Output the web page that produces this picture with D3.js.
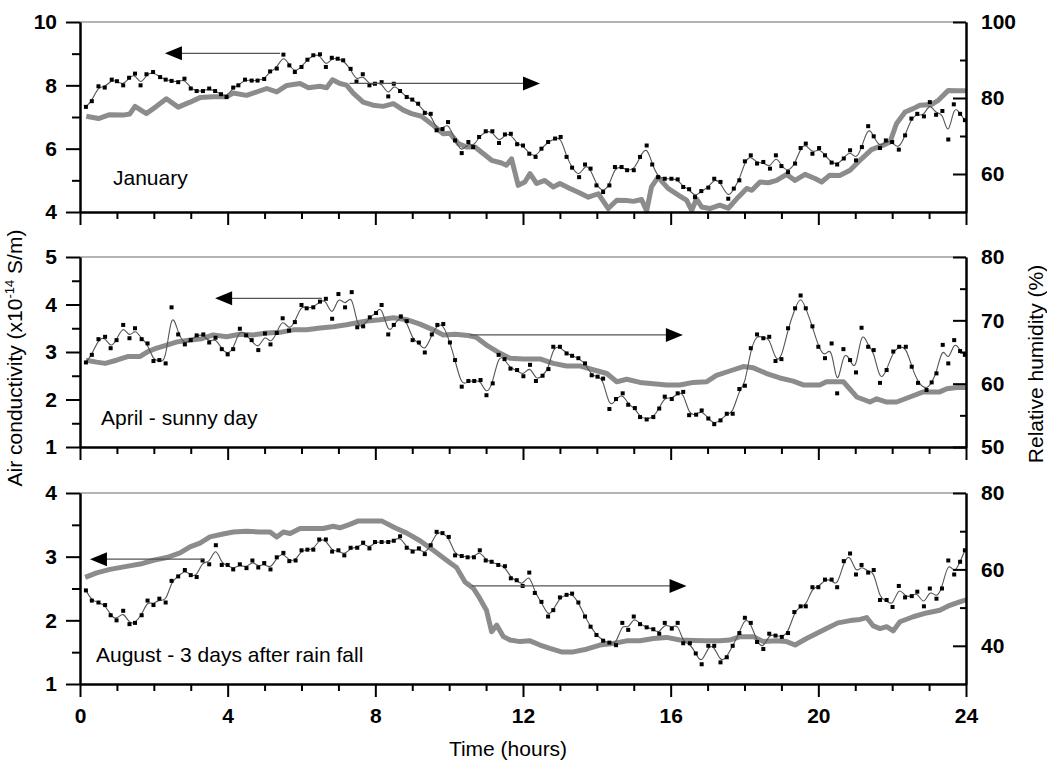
<!DOCTYPE html>
<html>
<head>
<meta charset="utf-8">
<script src="https://cdn.jsdelivr.net/npm/d3@7"></script>
<style>
  body { margin: 0; background: #fff; }
  svg text { font-family: "Liberation Sans", Arial, sans-serif; fill: #000; }
  .tick text { font-weight: bold; font-size: 21px; }
  .axis path, .axis line { stroke: #000; stroke-width: 2; }
  .title { font-size: 21px; }
</style>
</head>
<body>
<div id="chart"></div>
<script>
// ---- data ----
const hourTicks = [0, 4, 8, 12, 16, 20, 24];
const hourMinor = [1, 2, 3, 5, 6, 7, 9, 10, 11, 13, 14, 15, 17, 18, 19, 21, 22, 23];

// January
const janCondT = [0.16,0.32,0.5,0.67,0.86,1,1.17,1.33,1.49,1.64,1.8,1.98,2.17,2.32,2.48,2.66,2.83,3,3.16,3.33,3.5,3.66,3.82,3.97,4.15,4.29,4.47,4.65,4.81,4.99,5.15,5.33,5.51,5.67,5.82,6,6.16,6.32,6.5,6.66,6.82,6.98,7.13,7.33,7.49,7.66,7.84,7.99,8.17,8.35,8.5,8.67,8.85,9,9.16,9.34,9.5,9.66,9.82,9.97,10.16,10.34,10.52,10.65,10.81,10.99,11.17,11.35,11.51,11.67,11.84,12,12.17,12.34,12.5,12.68,12.87,13.02,13.18,13.33,13.52,13.68,13.83,13.99,14.17,14.34,14.49,14.67,14.82,15,15.17,15.35,15.5,15.66,15.84,16.02,16.19,16.34,16.5,16.66,16.83,17.02,17.18,17.35,17.56,17.71,17.86,18.01,18.17,18.34,18.51,18.69,18.85,19,19.18,19.37,19.52,19.66,19.84,20.02,20.18,20.36,20.51,20.69,20.86,21.02,21.18,21.35,21.5,21.67,21.83,22,22.18,22.35,22.52,22.68,22.86,23.02,23.19,23.36,23.52,23.67,23.84,23.97];
const janCond = [7.32,7.5,7.97,7.93,8.18,8.13,8,8.24,8.37,8,8.35,8.42,8.26,8.18,8.14,8.1,8.21,7.9,7.82,7.82,7.9,7.82,7.72,7.63,7.93,8,8.18,8.15,8.15,8.2,8.44,8.53,8.97,8.63,8.42,8.58,8.81,8.95,8.98,8.58,8.87,8.84,8.79,8.52,8.12,8.35,8,8.05,8.1,7.65,8.05,7.82,7.63,7.55,7.42,7.13,7.1,6.58,6.62,6.84,6.26,5.86,6.21,6.05,6.37,6.55,6.55,6.18,6.45,6.47,6.14,6.1,5.84,5.74,6,6.21,6.32,6.37,5.74,5.4,5.1,5.5,5.37,4.84,4.63,4.84,5.42,5.42,5.32,5.32,5.74,6.1,5.5,5.1,5.05,5.05,5.03,4.79,4.72,4.47,4.66,4.77,5.05,4.95,4.42,4.74,5,5.6,5.79,5.53,5.58,5.37,5.79,5.45,5.26,5.53,6.02,6.16,5.84,6.02,5.79,5.56,5.5,5.69,5.95,5.63,6.05,6.71,6.39,6.02,6.26,6.21,5.97,6.42,6.95,7.1,7.02,7.47,7.07,7.19,6.29,7.4,7.1,6.9];
const janRhT = [0.17,0.5,0.8,1.17,1.35,1.49,1.8,2.07,2.34,2.66,2.98,3.25,3.61,3.97,4.15,4.51,5.06,5.33,5.6,5.96,6.19,6.5,6.68,6.84,7.04,7.22,7.4,7.67,7.94,8.21,8.49,8.76,8.98,9.25,9.57,9.84,10.02,10.25,10.47,10.7,10.92,11.15,11.42,11.55,11.69,11.87,12.05,12.19,12.37,12.59,12.82,13,13.27,13.54,13.77,14.04,14.31,14.54,14.81,14.99,15.21,15.35,15.48,15.66,15.93,16.25,16.43,16.57,16.7,16.84,17.06,17.33,17.56,17.83,18.06,18.2,18.42,18.65,18.87,19.14,19.37,19.64,19.91,20.09,20.31,20.58,20.86,21.17,21.44,21.76,21.94,22.12,22.35,22.57,22.75,23.07,23.25,23.52,23.75,24];
const janRh = [75.2,74.6,75.6,75.5,75.8,77.8,75.9,77.8,79.8,77.6,78.9,80.1,80.3,80.3,81.3,80.7,82.5,81.6,83.3,83.8,82.7,83.1,82.7,84.8,83.8,83.4,81.3,78.9,78.1,77.8,78.5,76.8,75.9,75.2,72.8,70.6,70.7,68,67.1,67.1,65.4,63.6,62.9,62.3,64,57,57.9,60.1,57.5,58.3,56.6,57.5,56.2,55,53.9,54.8,50.9,53.1,53,52.8,53.3,50.3,56.6,59.2,56.2,54.2,53.1,50.4,53.5,51.3,50.9,51.8,51,53.9,56.2,55.7,57.9,57.7,58.3,59.9,58.3,59.9,58.8,57.9,59.7,59.6,61,64,66.4,67.6,68.4,73.3,76.3,77.2,78.1,78.3,79.4,82,81.9,81.9];

// April - sunny day
const aprCondT = [0.16,0.32,0.5,0.68,0.83,0.99,1.17,1.34,1.49,1.67,1.83,1.99,2.15,2.32,2.48,2.66,2.84,3,3.16,3.34,3.5,3.67,3.84,4,4.15,4.33,4.5,4.65,4.83,5.01,5.16,5.33,5.49,5.66,5.82,6,6.14,6.32,6.5,6.66,6.83,7,7.18,7.36,7.51,7.67,7.85,8.02,8.17,8.35,8.5,8.69,8.85,9.01,9.18,9.34,9.53,9.68,9.84,10.02,10.16,10.34,10.52,10.68,10.85,11.01,11.18,11.34,11.5,11.66,11.84,12.01,12.19,12.35,12.53,12.69,12.82,13,13.18,13.33,13.5,13.68,13.86,14.02,14.17,14.34,14.52,14.7,14.85,15.03,15.17,15.35,15.53,15.69,15.84,16.03,16.19,16.34,16.5,16.69,16.84,17.02,17.18,17.35,17.52,17.68,17.86,18.01,18.17,18.34,18.51,18.67,18.84,19,19.18,19.37,19.52,19.66,19.84,20,20.18,20.36,20.51,20.68,20.86,21.02,21.17,21.35,21.5,21.67,21.85,22.03,22.19,22.37,22.53,22.7,22.93,23.07,23.2,23.37,23.52,23.68,23.84,23.97];
const aprCond = [2.78,2.94,3.27,3.32,3.08,3.25,3.57,3.29,3.5,3.27,3.18,2.81,2.83,2.76,3.94,3.37,3.16,3.25,3.35,3.37,3.2,3.3,3.06,2.95,3.06,3.49,3.35,3.25,3.04,3.39,3.16,3.4,3.71,3.45,3.63,3.99,3.92,3.94,4.06,4.12,3.7,4.22,3.94,4.26,3.52,3.54,3.73,3.82,3.99,3.37,3.57,3.75,3.65,3.25,3.2,2.99,3.37,3.57,3.59,3.2,2.83,2.27,2.39,2.39,2.41,2.09,2.34,2.94,2.85,2.65,2.62,2.49,2.73,2.39,2.5,2.64,3.11,3.11,2.97,2.92,2.87,2.76,2.51,2.48,2.44,1.8,2.01,2.13,1.89,1.82,1.63,1.58,1.63,1.81,2.06,2.01,2.13,2.16,1.67,1.68,1.77,1.6,1.48,1.56,1.7,1.7,2.22,2.29,3.08,3.37,3.29,3.32,2.81,2.85,3.5,3.92,4.19,3.92,3.54,3.11,2.87,3.18,2.13,3.06,2.83,2.57,3.51,3.11,3.04,2.35,2.62,3.01,3.11,3.11,2.69,2.35,2.2,2.36,2.55,3.15,2.76,3.25,3.02,2.94];
const aprRhT = [0.16,0.45,0.68,0.99,1.31,1.63,1.85,2.08,2.35,2.63,2.99,3.3,3.61,3.97,4.33,4.69,5.06,5.42,5.78,6.14,6.5,6.86,7.22,7.58,7.77,8.13,8.49,8.85,9.21,9.57,9.84,10.16,10.52,10.74,11.01,11.38,11.65,12.01,12.46,12.82,13.18,13.54,13.9,14.27,14.54,14.81,15.17,15.53,15.89,16.25,16.61,16.97,17.24,17.6,17.97,18.24,18.6,18.96,19.32,19.59,20.04,20.22,20.68,21.04,21.4,21.58,21.85,22.12,22.48,22.84,23.29,23.48,23.75,24];
const aprRh = [63.7,63.4,63.2,63.7,64.3,64.3,65.1,65.6,66.1,66.6,66.9,67.1,67.7,67.4,67.8,67.7,68,68.1,68.5,68.5,68.8,69,69.3,69.7,69.9,70.1,70.4,70.1,69.4,68.5,67.7,67.8,67.6,67.3,66.1,64.8,64,63.9,63.9,63.2,62.8,62.8,62.2,61.6,60.3,60.7,60.2,60,59.8,59.8,60.2,60.3,61.3,62,62.7,62.5,61.6,60.9,60.4,59.8,59.8,60.3,60.3,57.9,57.1,57.6,57.1,57.1,57.9,58.7,58.7,59.2,59.4,59.4];

// August - 3 days after rain fall
const augCondT = [0.16,0.32,0.5,0.68,0.83,0.99,1.17,1.34,1.49,1.67,1.83,1.99,2.15,2.32,2.48,2.66,2.84,3,3.16,3.32,3.5,3.68,3.84,4,4.15,4.33,4.51,4.67,4.83,4.99,5.16,5.33,5.51,5.67,5.84,6,6.16,6.32,6.48,6.66,6.83,7,7.16,7.33,7.51,7.67,7.84,7.99,8.17,8.35,8.5,8.67,8.85,9.01,9.18,9.34,9.5,9.66,9.82,9.99,10.16,10.34,10.5,10.67,10.83,10.99,11.15,11.33,11.51,11.67,11.83,11.99,12.17,12.32,12.5,12.68,12.82,13,13.18,13.33,13.5,13.68,13.83,13.99,14.17,14.34,14.52,14.69,14.85,15,15.17,15.35,15.53,15.69,15.84,16.03,16.19,16.34,16.52,16.68,16.84,17.02,17.18,17.35,17.52,17.68,17.86,18.01,18.17,18.34,18.51,18.67,18.84,19.01,19.18,19.35,19.52,19.66,19.84,20,20.18,20.36,20.51,20.69,20.86,21.02,21.17,21.35,21.5,21.67,21.85,22.01,22.18,22.35,22.53,22.68,22.86,23.02,23.2,23.35,23.52,23.68,23.84,23.97];
const augCond = [2.47,2.31,2.28,2.24,2.08,2,2.15,1.94,1.96,2.08,2.31,2.24,2.34,2.28,2.62,2.69,2.79,2.71,2.68,2.94,2.88,3.18,2.87,2.87,2.8,2.88,2.82,2.94,2.83,2.9,2.8,2.99,3.06,2.93,2.94,3.1,3.11,3.11,3.27,3.27,3.08,3.1,3.02,3.14,3.14,3.22,3.13,3.23,3.23,3.23,3.25,3.32,3.14,3.08,3.13,3.04,3.18,3.39,3.37,3.31,3.02,3.01,2.99,2.99,3.1,2.94,2.92,2.87,2.85,2.66,2.63,2.54,2.75,2.43,2.29,2.06,2.16,2.36,2.4,2.42,2.28,2.06,1.9,1.77,1.68,1.65,1.61,1.96,1.85,2.06,1.94,1.89,1.86,1.79,1.96,1.87,1.96,1.64,1.64,1.48,1.31,1.6,1.6,1.34,1.42,1.6,1.8,2.04,1.96,1.66,1.55,1.79,1.76,1.74,1.8,2.13,2.22,2.22,2.52,2.52,2.64,2.64,2.52,2.93,3.05,2.72,2.87,2.75,2.79,2.32,2.32,2.21,2.54,2.36,2.38,2.45,2.22,2.5,2.34,2.5,2.94,2.72,2.92,3.1];
const augRhT = [0.14,0.45,0.81,1.26,1.63,1.99,2.35,2.71,2.98,3.25,3.52,3.84,4.15,4.51,4.87,5.15,5.33,5.51,5.69,5.96,6.32,6.59,6.86,7.04,7.31,7.54,7.94,8.17,8.53,8.85,9.21,9.57,9.93,10.2,10.43,10.66,10.83,11.01,11.15,11.29,11.47,11.65,11.92,12.19,12.46,12.73,13.04,13.36,13.72,14.08,14.44,14.81,15.17,15.53,15.89,16.25,16.61,16.97,17.33,17.6,17.88,18.24,18.51,18.87,19.14,19.37,19.68,19.95,20.22,20.53,20.86,21.13,21.31,21.49,21.67,21.85,22.03,22.21,22.57,22.93,23.29,23.56,23.83,24];
const augRh = [57.9,59.1,60,60.8,61.4,62.4,63.1,64.3,65.9,66.9,68.5,69.2,69.8,70,69.8,69.8,68.5,69.8,69.4,70.7,70.7,70.7,71.3,70.9,71.8,72.7,72.7,72.7,70.9,69.5,67.5,65,62.4,60.5,56.7,55,52.4,49.3,43.7,45.4,42.4,41.5,41.1,41.3,40.2,39.3,38.4,38.4,39.1,40.2,40.6,41.3,41.3,41.9,42.2,41.5,41.4,41.3,41.3,41.5,42.4,42.4,41.1,41.3,41.1,40.2,41.9,43.2,44.5,46,46.6,46.9,47.4,45.2,44.5,45,43.9,46.3,47.6,48.6,49.3,50.6,51.5,52];

// ---- layout ----
const W = 1047, H = 768;
const xLeft = 80, xRight = 966;

const panels = [
  { name: 'January', condT: janCondT, cond: janCond, rhT: janRhT, rh: janRh,
    top: 22, height: 190, yDomain: [4, 10], yTicks: [4, 6, 8, 10], yMinor: [5, 7, 9],
    rDomain: [50, 100], rTicks: [60, 80, 100], rMinor: [70, 90],
    labelX: 113, labelDy: -27,
    arrows: [{ from: 5.42, to: 2.3, at: 9.01 }, { from: 7.3, to: 12.46, at: 8.06 }] },
  { name: 'April - sunny day', condT: aprCondT, cond: aprCond, rhT: aprRhT, rh: aprRh,
    top: 257, height: 190, yDomain: [1, 5], yTicks: [1, 2, 3, 4, 5], yMinor: [1.5, 2.5, 3.5, 4.5],
    rDomain: [50, 80], rTicks: [50, 60, 70, 80], rMinor: [55, 65, 75],
    labelX: 101, labelDy: -22,
    arrows: [{ from: 6.55, to: 3.66, at: 4.13 }, { from: 10.56, to: 16.33, at: 3.36 }] },
  { name: 'August - 3 days after rain fall', condT: augCondT, cond: augCond, rhT: augRhT, rh: augRh,
    top: 493, height: 191, yDomain: [1, 4], yTicks: [1, 2, 3, 4], yMinor: [1.5, 2.5, 3.5],
    rDomain: [30, 80], rTicks: [40, 60, 80], rMinor: [50, 70],
    labelX: 96, labelDy: -22,
    arrows: [{ from: 3.33, to: 0.27, at: 2.96 }, { from: 10.61, to: 16.43, at: 2.54 }] },
];

const svg = d3.select('#chart').append('svg')
  .attr('width', W).attr('height', H)
  .attr('viewBox', `0 0 ${W} ${H}`);

const x = d3.scaleLinear().domain([0, 24]).range([xLeft, xRight]);

panels.forEach((p, i) => {
  const g = svg.append('g').attr('transform', `translate(0,${p.top})`);
  const yL = d3.scaleLinear().domain(p.yDomain).range([p.height, 0]);
  const yR = d3.scaleLinear().domain(p.rDomain).range([p.height, 0]);
  const last = i === panels.length - 1;

  // light line along the top of the frame
  g.append('line')
    .attr('x1', x(0)).attr('x2', x(24))
    .attr('y1', yL(p.yDomain[1])).attr('y2', yL(p.yDomain[1]))
    .attr('stroke', '#b4b4b4').attr('stroke-width', 2);

  // relative humidity (thick grey)
  const rhLine = d3.line().x(d => x(d[0])).y(d => yR(d[1]));
  g.append('path')
    .datum(d3.zip(p.rhT, p.rh))
    .attr('d', rhLine)
    .attr('fill', 'none')
    .attr('stroke', '#8c8c8c')
    .attr('stroke-width', 5)
    .attr('stroke-linejoin', 'round');

  // conductivity (thin line + square markers)
  const condData = d3.zip(p.condT, p.cond);
  const condLine = d3.line().x(d => x(d[0])).y(d => yL(d[1])).curve(d3.curveBasis);
  g.append('path')
    .datum(condData)
    .attr('d', condLine)
    .attr('fill', 'none')
    .attr('stroke', '#555')
    .attr('stroke-width', 1.1);

  g.selectAll('.pt')
    .data(condData)
    .join('rect')
    .attr('class', 'pt')
    .attr('x', d => x(d[0]) - 2)
    .attr('y', d => yL(d[1]) - 2)
    .attr('width', 4).attr('height', 4)
    .attr('fill', '#000');

  // arrows telling which axis a curve belongs to
  p.arrows.forEach(a => {
    const y0 = yL(a.at);
    const x1 = x(a.from), x2 = x(a.to);
    const dir = x2 > x1 ? 1 : -1;
    g.append('line')
      .attr('x1', x1).attr('x2', x2 - dir * 14)
      .attr('y1', y0).attr('y2', y0)
      .attr('stroke', '#555').attr('stroke-width', 1.3);
    g.append('path')
      .attr('d', `M${x2},${y0}L${x2 - dir * 17},${y0 - 7}L${x2 - dir * 17},${y0 + 7}Z`)
      .attr('fill', '#000');
  });

  // axes
  g.append('g').attr('class', 'axis')
    .attr('transform', `translate(0,${p.height})`)
    .call(d3.axisBottom(x).tickValues(hourMinor).tickSize(7).tickSizeOuter(0).tickFormat(''));
  g.append('g').attr('class', 'axis')
    .attr('transform', `translate(0,${p.height})`)
    .call(d3.axisBottom(x).tickValues(hourTicks).tickSize(13).tickSizeOuter(0).tickPadding(11)
      .tickFormat(last ? d3.format('d') : ''));

  g.append('g').attr('class', 'axis')
    .attr('transform', `translate(${xLeft},0)`)
    .call(d3.axisLeft(yL).tickValues(p.yMinor).tickSize(8).tickSizeOuter(0).tickFormat(''));
  g.append('g').attr('class', 'axis')
    .attr('transform', `translate(${xLeft},0)`)
    .call(d3.axisLeft(yL).tickValues(p.yTicks).tickSize(14).tickSizeOuter(0).tickPadding(9)
      .tickFormat(d3.format('d')));

  g.append('g').attr('class', 'axis')
    .attr('transform', `translate(${xRight},0)`)
    .call(d3.axisRight(yR).tickValues(p.rMinor).tickSize(-6).tickSizeOuter(0).tickFormat(''));
  g.append('g').attr('class', 'axis')
    .attr('transform', `translate(${xRight},0)`)
    .call(d3.axisRight(yR).tickValues(p.rTicks).tickSize(-13).tickSizeOuter(0).tickPadding(15)
      .tickFormat(d3.format('d')));

  // panel label
  g.append('text')
    .attr('class', 'title')
    .attr('x', p.labelX)
    .attr('y', p.height + p.labelDy)
    .text(p.name);
});

// axis titles
const leftTitle = svg.append('text')
  .attr('class', 'title')
  .attr('text-anchor', 'middle')
  .attr('transform', 'translate(22,358) rotate(-90)');
leftTitle.append('tspan').text('Air conductivity (x10');
leftTitle.append('tspan').attr('font-size', 13).attr('dy', -8).text('-14');
leftTitle.append('tspan').attr('dy', 8).text(' S/m)');

svg.append('text')
  .attr('class', 'title')
  .attr('text-anchor', 'middle')
  .attr('transform', 'translate(1043,364) rotate(-90)')
  .text('Relative humidity (%)');

svg.append('text')
  .attr('class', 'title')
  .attr('text-anchor', 'middle')
  .attr('x', 508)
  .attr('y', 756)
  .text('Time (hours)');
</script>
</body>
</html>
